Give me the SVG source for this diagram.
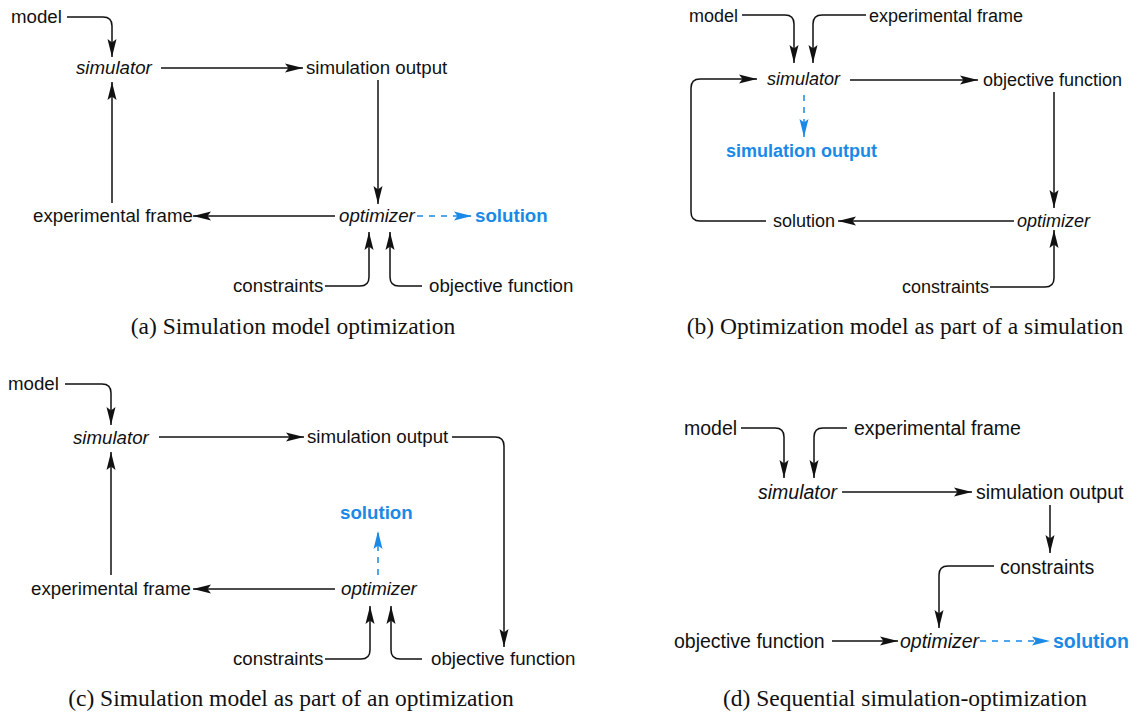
<svg xmlns="http://www.w3.org/2000/svg" width="1139" height="714" viewBox="0 0 1139 714">
<style>
.t{font-family:"Liberation Sans",Arial,sans-serif;font-size:18.7px;fill:#111}
.s{font-size:18px}
.l{font-size:19.5px}
.i{font-style:italic}
.b{font-weight:bold;fill:#1a8ae6}
.cap{font-family:"Liberation Serif","Times New Roman",serif;font-size:23.5px;fill:#111;text-anchor:middle}
.c{fill:none;stroke:#111;stroke-width:1.5;marker-end:url(#ah)}
.d{fill:none;stroke:#1a8ae6;stroke-width:1.5;stroke-dasharray:6 6;marker-end:url(#ahb)}
</style>
<defs>
<marker id="ah" markerUnits="userSpaceOnUse" markerWidth="18" markerHeight="10" viewBox="0 0 18 10" refX="18" refY="5" orient="auto"><path d="M0,0.5 L18,5 L0,9.5 L3.5,5 z" fill="#111"/></marker>
<marker id="ahb" markerUnits="userSpaceOnUse" markerWidth="18" markerHeight="10" viewBox="0 0 18 10" refX="18" refY="5" orient="auto"><path d="M0,0.5 L18,5 L0,9.5 L3.5,5 z" fill="#1a8ae6"/></marker>
</defs>
<rect width="1139" height="714" fill="#fff"/>
<g id="connectors">
<path class="c" d="M67,17 H103 Q112,17 112,26 V57"/>
<path class="c" d="M161,68 H303"/>
<path class="c" d="M378,80 V204"/>
<path class="c" d="M335,216 H193"/>
<path class="c" d="M112,203 V82"/>
<path class="d" d="M417,216 H472"/>
<path class="c" d="M325,286 H360 Q369,286 369,277 V232"/>
<path class="c" d="M422,286 H399 Q390,286 390,277 V232"/>
<path class="c" d="M742,15 H785 Q794,15 794,24 V63"/>
<path class="c" d="M866,15 H822 Q813,15 813,24 V63"/>
<path class="c" d="M766,221 H700 Q691,221 691,212 V88 Q691,79 700,79 H757"/>
<path class="c" d="M850,80 H978"/>
<path class="d" d="M804,95 V137"/>
<path class="c" d="M1054,92 V208"/>
<path class="c" d="M1014,221 H838"/>
<path class="c" d="M990,287 H1045 Q1054,287 1054,278 V230"/>
<path class="c" d="M65,384 H102 Q111,384 111,393 V425"/>
<path class="c" d="M159,437 H304"/>
<path class="c" d="M452,437 H495 Q504,437 504,446 V647"/>
<path class="d" d="M378,575 V531"/>
<path class="c" d="M335,589 H193"/>
<path class="c" d="M111,575 V452"/>
<path class="c" d="M325,659 H361 Q370,659 370,650 V606"/>
<path class="c" d="M422,659 H400 Q391,659 391,650 V606"/>
<path class="c" d="M741,428 H775 Q784,428 784,437 V478"/>
<path class="c" d="M847,428 H823 Q814,428 814,437 V478"/>
<path class="c" d="M842,492 H972"/>
<path class="c" d="M1050,505 V553"/>
<path class="c" d="M994,566 H948 Q939,566 939,575 V628"/>
<path class="c" d="M832,641 H898"/>
<path class="d" d="M980,641 H1050"/>
</g>
<g id="a-model"><text class="t" x="11" y="23">model</text></g>
<g id="a-simulator"><text class="t i" x="76" y="74">simulator</text></g>
<g id="a-simout"><text class="t" x="306" y="74">simulation output</text></g>
<g id="a-expframe"><text class="t" x="33" y="222">experimental frame</text></g>
<g id="a-optimizer"><text class="t i" x="339" y="222">optimizer</text></g>
<g id="a-solution"><text class="t b" x="475" y="222">solution</text></g>
<g id="a-constraints"><text class="t" x="233" y="292">constraints</text></g>
<g id="a-objective"><text class="t" x="429" y="292">objective function</text></g>
<text class="cap" x="293" y="334">(a) Simulation model optimization</text>
<g id="b-model"><text class="t s" x="689" y="22">model</text></g>
<g id="b-expframe"><text class="t s" x="869" y="22">experimental frame</text></g>
<g id="b-simulator"><text class="t s i" x="767" y="85">simulator</text></g>
<g id="b-objective"><text class="t s" x="983" y="86">objective function</text></g>
<g id="b-simout"><text class="t s b" x="726" y="157">simulation output</text></g>
<g id="b-optimizer"><text class="t s i" x="1017" y="227">optimizer</text></g>
<g id="b-solution"><text class="t s" x="773" y="227">solution</text></g>
<g id="b-constraints"><text class="t s" x="902" y="293">constraints</text></g>
<text class="cap" x="905" y="334">(b) Optimization model as part of a simulation</text>
<g id="c-model"><text class="t" x="8" y="390">model</text></g>
<g id="c-simulator"><text class="t i" x="73" y="444">simulator</text></g>
<g id="c-simout"><text class="t" x="307" y="443">simulation output</text></g>
<g id="c-solution"><text class="t b" x="340" y="519">solution</text></g>
<g id="c-expframe"><text class="t" x="31" y="595">experimental frame</text></g>
<g id="c-optimizer"><text class="t i" x="341" y="595">optimizer</text></g>
<g id="c-constraints"><text class="t" x="233" y="665">constraints</text></g>
<g id="c-objective"><text class="t" x="431" y="665">objective function</text></g>
<text class="cap" x="291" y="706">(c) Simulation model as part of an optimization</text>
<g id="d-model"><text class="t l" x="684" y="435">model</text></g>
<g id="d-expframe"><text class="t l" x="854" y="435">experimental frame</text></g>
<g id="d-simulator"><text class="t l i" x="758" y="499">simulator</text></g>
<g id="d-simout"><text class="t l" x="976" y="499">simulation output</text></g>
<g id="d-constraints"><text class="t l" x="1000" y="574">constraints</text></g>
<g id="d-objective"><text class="t l" x="674" y="648">objective function</text></g>
<g id="d-optimizer"><text class="t l i" x="900" y="648">optimizer</text></g>
<g id="d-solution"><text class="t l b" x="1053" y="648">solution</text></g>
<text class="cap" x="905" y="706">(d) Sequential simulation-optimization</text>
</svg>
